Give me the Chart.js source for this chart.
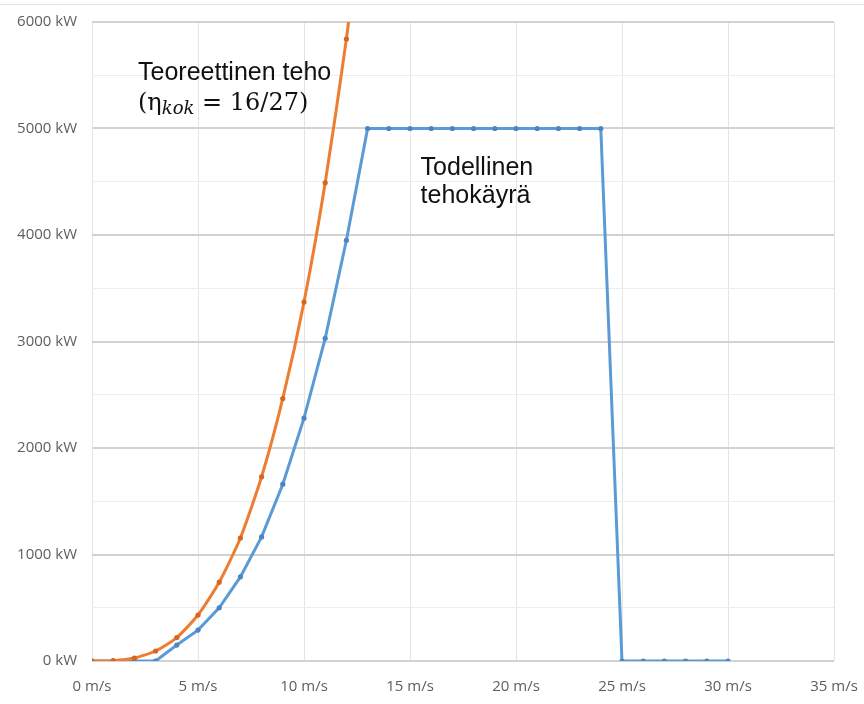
<!DOCTYPE html>
<html>
<head>
<meta charset="utf-8">
<script src="https://cdn.jsdelivr.net/npm/chart.js@4"></script>
<style>
  html, body { margin: 0; padding: 0; background: #fff; overflow: hidden; }
  #power-chart { display: block; }
</style>
</head>
<body>
<canvas id="power-chart" width="864" height="704"></canvas>
<script>
// Theoretical power (Betz limit 16/27), one point per m/s
const theorySpeed = [0, 1, 2, 3, 4, 5, 6, 7, 8, 9, 10, 11, 12, 13];
const theoryPower = [0, 3, 28, 94, 220, 432, 740, 1155, 1730, 2465, 3370, 4490, 5840, 7440];

// Actual power curve of the turbine
const realSpeed = [0, 1, 2, 3, 4, 5, 6, 7, 8, 9, 10, 11, 12, 13, 14, 15, 16, 17, 18, 19, 20,
    21, 22, 23, 24, 25, 26, 27, 28, 29, 30];
const realPower = [0, 0, 0, 0, 150, 290, 500, 790, 1165, 1660, 2280, 3030, 3950, 5000, 5000,
    5000, 5000, 5000, 5000, 5000, 5000, 5000, 5000, 5000, 5000, 0, 0, 0, 0, 0, 0];

// Axis ticks
const xTicks = [0, 5, 10, 15, 20, 25, 30, 35];
const yTicks = [0, 1000, 2000, 3000, 4000, 5000, 6000];

const ORANGE = '#ED7D31';
const BLUE = '#5B9BD5';

function toPoints(xs, ys) {
    return xs.map((x, i) => ({ x: x, y: ys[i] }));
}

// Text labels drawn inside the plot
const labelsPlugin = {
    id: 'curveLabels',
    beforeDraw(chart) {
        const ctx = chart.ctx;
        ctx.save();
        ctx.strokeStyle = '#e3e3e3';
        ctx.lineWidth = 1;
        ctx.beginPath();
        ctx.moveTo(0, 4.5);
        ctx.lineTo(864, 4.5);
        ctx.stroke();
        ctx.restore();
    },
    afterDatasetsDraw(chart) {
        const ctx = chart.ctx;
        const xs = chart.scales.x, ys = chart.scales.y;
        ctx.save();
        ctx.fillStyle = '#111';
        ctx.textBaseline = 'alphabetic';
        ctx.textAlign = 'left';

        ctx.font = '25px "Liberation Sans", Arial, sans-serif';
        ctx.fillText('Teoreettinen teho', xs.getPixelForValue(2.17), ys.getPixelForValue(5455));
        ctx.fillText('Todellinen', xs.getPixelForValue(15.5), ys.getPixelForValue(4565));
        ctx.fillText('tehokäyrä', xs.getPixelForValue(15.5), ys.getPixelForValue(4300));

        // (η_kok = 16/27)
        let px = xs.getPixelForValue(2.17);
        const py = ys.getPixelForValue(5175);
        ctx.font = '24px "DejaVu Serif", "Liberation Serif", serif';
        ctx.fillText('(η', px, py);
        px += ctx.measureText('(η').width;
        ctx.font = 'italic 18px "DejaVu Serif", "Liberation Serif", serif';
        ctx.fillText('kok', px, py + 4);
        px += ctx.measureText('kok').width;
        ctx.font = '24px "DejaVu Serif", "Liberation Serif", serif';
        ctx.fillText(' = 16/27)', px, py);
        ctx.restore();
    }
};

const chart = new Chart(document.getElementById('power-chart'), {
    type: 'line',
    data: {
        datasets: [
            {
                label: 'Teoreettinen teho',
                data: toPoints(theorySpeed, theoryPower),
                borderColor: ORANGE,
                backgroundColor: '#d8651d',
                borderWidth: 3,
                pointRadius: 2.6,
                pointBorderWidth: 0,
                tension: 0.2
            },
            {
                label: 'Todellinen tehokäyrä',
                data: toPoints(realSpeed, realPower),
                borderColor: BLUE,
                backgroundColor: '#4a87c2',
                borderWidth: 3,
                pointRadius: 2.6,
                pointBorderWidth: 0,
                tension: 0
            }
        ]
    },
    options: {
        responsive: false,
        animation: false,
        devicePixelRatio: 1,
        layout: { padding: { left: 0, right: 30, top: 22, bottom: 0 } },
        plugins: { legend: { display: false }, tooltip: { enabled: false } },
        scales: {
            x: {
                type: 'linear',
                min: 0,
                max: 35,
                afterBuildTicks: (scale) => { scale.ticks = xTicks.map(v => ({ value: v })); },
                afterFit: (scale) => {
                    scale.height = 43;
                    scale.paddingLeft = 0;
                    scale.paddingRight = 0;
                },
                border: { display: false },
                grid: { color: '#e4e4e4', lineWidth: 1, drawTicks: false },
                ticks: {
                    padding: 17,
                    maxRotation: 0,
                    color: '#5e5e5e',
                    font: { family: '"Open Sans", sans-serif', size: 15 },
                    callback: (v) => v + ' m/s'
                }
            },
            y: {
                min: 0,
                max: 6000,
                afterBuildTicks: (scale) => {
                    const t = [];
                    yTicks.forEach((v, i) => {
                        t.push({ value: v });
                        if (i < yTicks.length - 1) t.push({ value: (v + yTicks[i + 1]) / 2 });
                    });
                    scale.ticks = t;
                },
                afterFit: (scale) => {
                    scale.width = 92;
                    scale.paddingTop = 0;
                    scale.paddingBottom = 0;
                },
                border: { display: false },
                grid: {
                    drawTicks: false,
                    color: (c) => (c.tick && yTicks.includes(c.tick.value)) ? '#d2d2d2' : '#ededed',
                    lineWidth: (c) => (c.tick && yTicks.includes(c.tick.value)) ? 2 : 1
                },
                ticks: {
                    padding: 15,
                    color: '#5e5e5e',
                    font: { family: '"Open Sans", sans-serif', size: 15 },
                    callback: (v) => yTicks.includes(v) ? v + ' kW' : ''
                }
            }
        }
    },
    plugins: [labelsPlugin]
});
</script>
</body>
</html>
